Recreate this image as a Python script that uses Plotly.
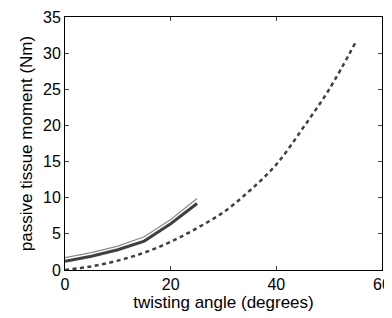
import plotly.graph_objects as go

angle_solid = [0, 5, 10, 15, 20, 25]
moment_dark = [1.2, 1.9, 2.8, 4.0, 6.4, 9.2]
moment_gray = [1.7, 2.4, 3.3, 4.6, 7.0, 9.9]

angle_dash = [0, 5, 10, 15, 20, 25, 30, 35, 40, 45, 50, 55]
moment_dash = [0.0, 0.5, 1.3, 2.4, 3.9, 5.8, 8.0, 11.0, 14.6, 19.6, 25.0, 31.5]

x_ticks = [0, 20, 40, 60]
y_ticks = [0, 5, 10, 15, 20, 25, 30, 35]

fig = go.Figure()
fig.add_trace(go.Scatter(x=angle_dash, y=moment_dash, mode="lines",
                         line=dict(color="#404040", width=2.5, dash="4px,3.5px", shape="spline")))
fig.add_trace(go.Scatter(x=angle_solid, y=moment_gray, mode="lines",
                         line=dict(color="#8a8a8a", width=1.2)))
fig.add_trace(go.Scatter(x=angle_solid, y=moment_dark, mode="lines",
                         line=dict(color="#404040", width=3)))

FAM = "Liberation Sans, Arial, sans-serif"
fig.update_layout(
    width=384, height=310,
    margin=dict(l=57, r=10, t=9, b=48),
    paper_bgcolor="white", plot_bgcolor="white",
    showlegend=False, font=dict(family=FAM, size=16, color="black"),
)
fig.update_xaxes(range=[0, 60], tickvals=x_ticks, ticks="inside", ticklen=4,
                 showline=True, linecolor="black", linewidth=1, mirror="ticks",
                 showgrid=False, zeroline=False, automargin=False,
                 ticklabeloverflow="allow",
                 tickfont=dict(color="black", size=16, family=FAM),
                 title=dict(text="twisting angle (degrees)", standoff=2,
                            font=dict(color="black", size=17, family=FAM)))
fig.update_yaxes(range=[0, 35], tickvals=y_ticks, ticks="inside", ticklen=4,
                 showline=True, linecolor="black", linewidth=1, mirror="ticks",
                 showgrid=False, zeroline=False, automargin=False,
                 ticklabeloverflow="allow",
                 tickfont=dict(color="black", size=16, family=FAM),
                 title=dict(text="passive tissue moment (Nm)", standoff=6,
                            font=dict(color="black", size=17, family=FAM)))
fig.write_html("out.html")
